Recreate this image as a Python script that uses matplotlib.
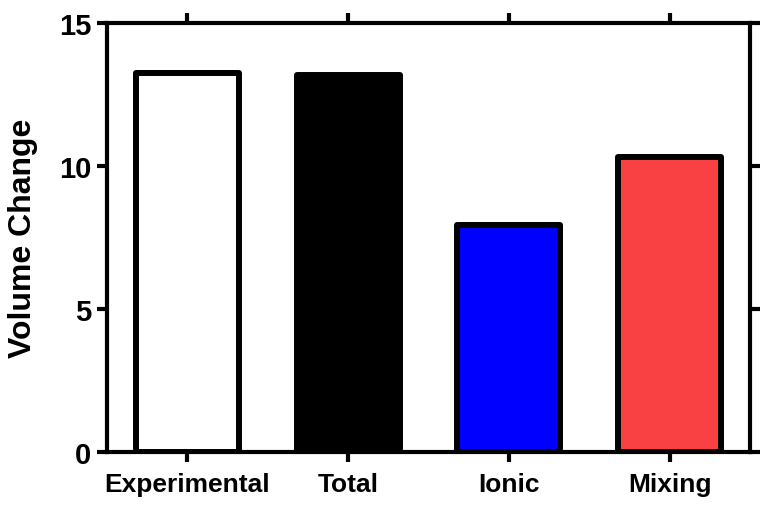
import matplotlib
matplotlib.use("Agg")
import matplotlib.pyplot as plt

categories = ["Experimental", "Total", "Ionic", "Mixing"]
values = [13.25, 13.18, 7.95, 10.32]
colors = ["#FFFFFF", "#000000", "#0000FF", "#F94144"]

plt.rcParams["font.family"] = ["Liberation Sans", "DejaVu Sans"]
plt.rcParams["font.weight"] = "bold"

fig = plt.figure(figsize=(7.77, 5.06), dpi=100)
ax = fig.add_axes([0.1377, 0.1047, 0.8276, 0.8479])

x = range(len(categories))
ax.bar(x, values, width=0.64, color=colors, edgecolor="black",
       linewidth=4.3, joinstyle="round", zorder=3)

ax.set_xlim(-0.5, 3.5)
ax.set_ylim(0, 15)
ax.set_yticks([0, 5, 10, 15])
ax.set_xticks(list(x))
ax.set_xticklabels(categories, fontsize=19, fontweight="bold")
for lab in ax.get_yticklabels():
    lab.set_fontsize(21)
    lab.set_fontweight("bold")

ax.tick_params(axis="both", which="both", direction="out", length=7.5, width=3,
               top=True, right=True, labeltop=False, labelright=False)
ax.tick_params(axis="x", pad=7)
ax.tick_params(axis="y", pad=4)
for sp in ax.spines.values():
    sp.set_linewidth(3)

ax.set_ylabel("Volume Change", fontsize=23, fontweight="bold", labelpad=15)

fig.savefig("out.png", dpi=100)
